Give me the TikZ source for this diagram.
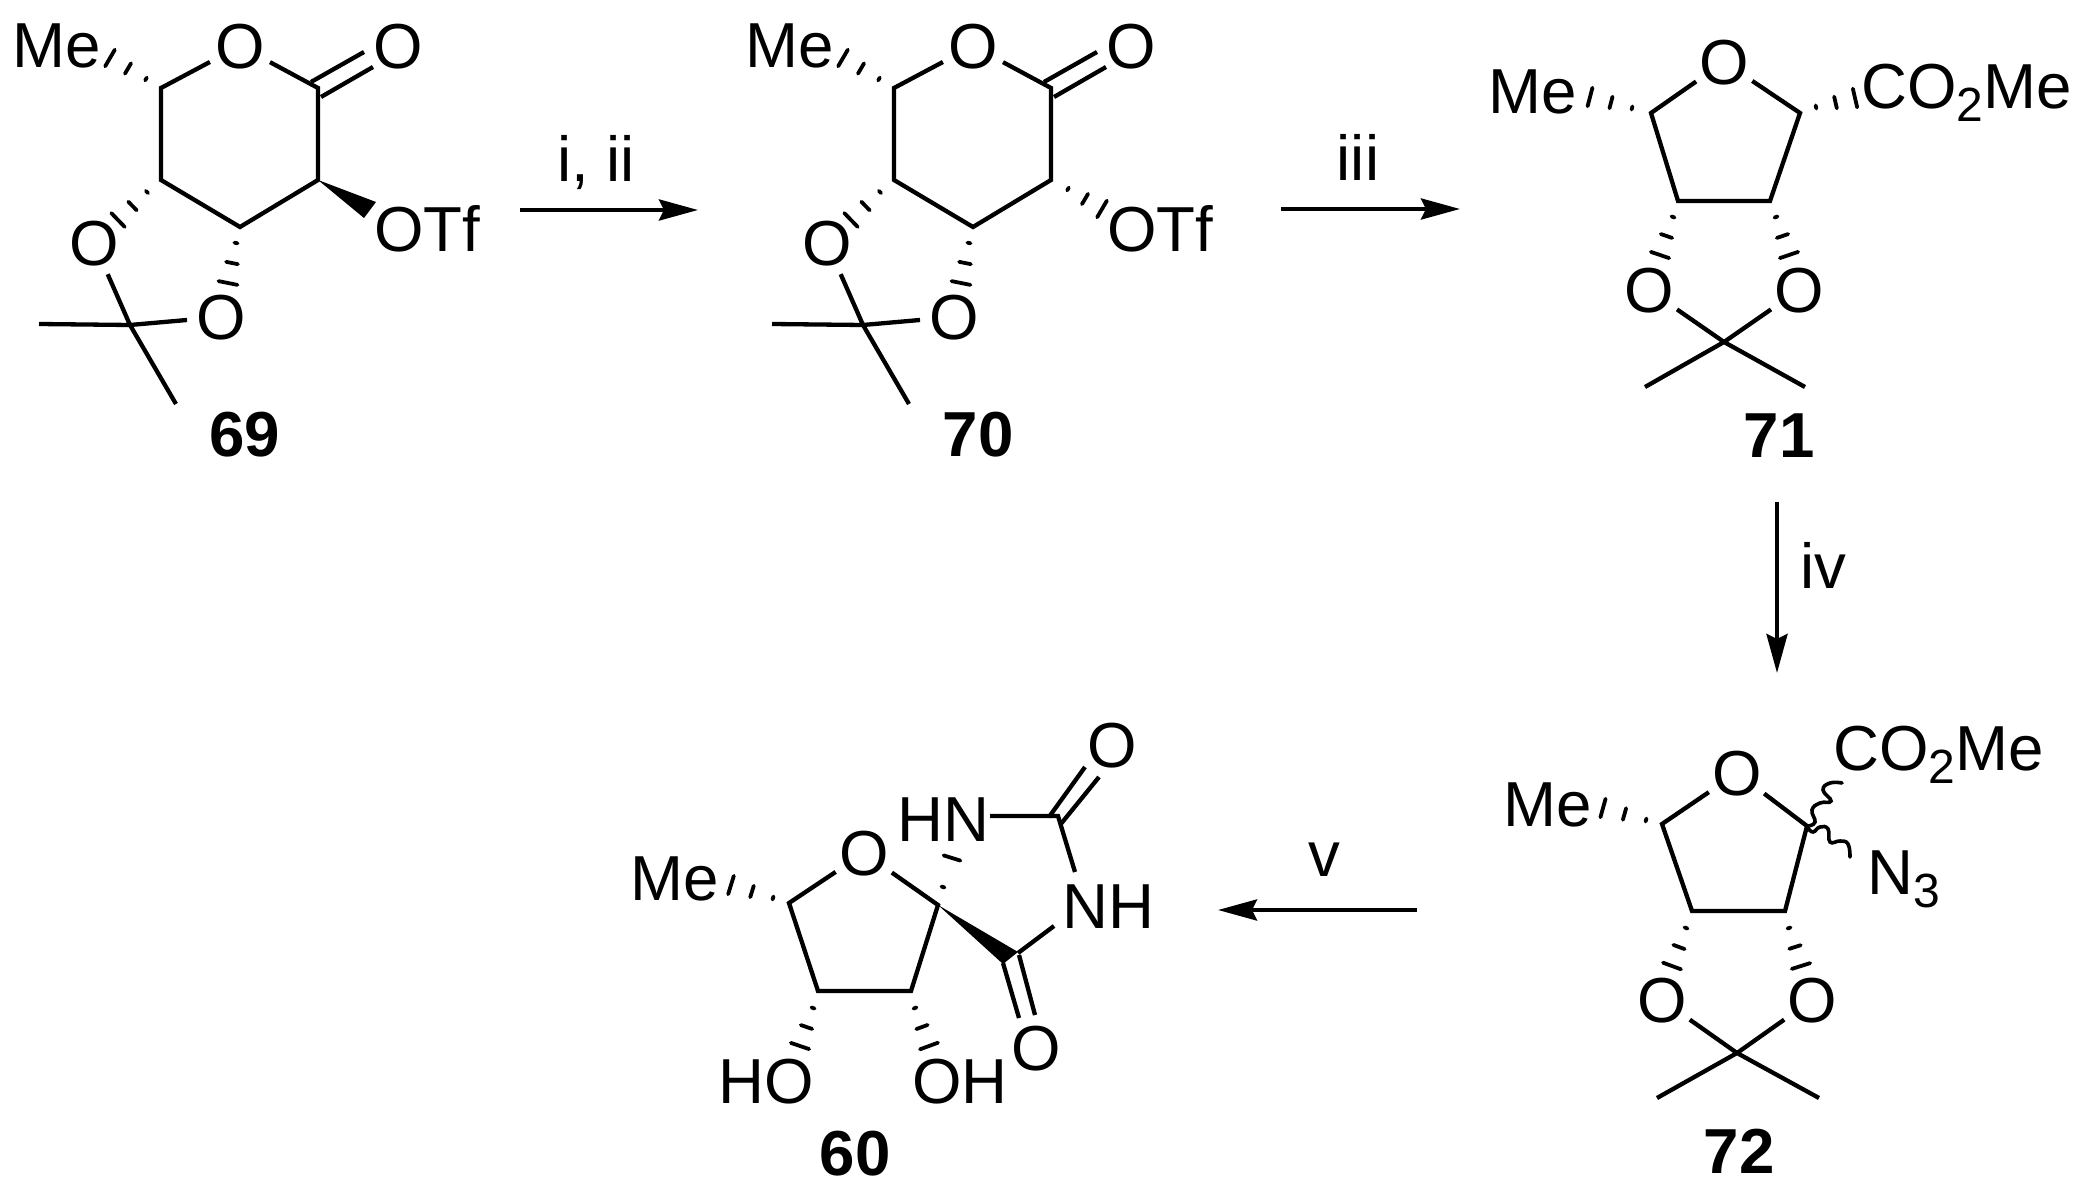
\documentclass[tikz,border=0pt]{standalone}
\usepackage{fontspec}
\setmainfont{Liberation Sans}
\usetikzlibrary{calc,arrows.meta}
\newcommand\bodyfont{\fontsize{31.8pt}{33pt}\selectfont}
\newcommand\subnum[1]{\raisebox{-6.5pt}{\fontsize{24pt}{25pt}\selectfont #1}}
\tikzset{
  every node/.style={font=\bodyfont,inner sep=0pt,text=black},
  bond/.style={line width=2.15pt,line cap=butt,line join=miter,draw=black},
  hashd/.style={line width=1.9pt,line cap=round,draw=black},
  atom/.style={circle,inner sep=0pt,minimum size=32pt,text height=22.8pt,text depth=0pt},
  lbl/.style={anchor=base west},
  cmpd/.style={anchor=base,font=\bodyfont\bfseries},
  cond/.style={anchor=base},
  rxn/.style={line width=2.15pt,draw=black,-{Stealth[length=19.5pt,width=10.5pt,inset=2.5pt]}},
  wavy/.style={line width=1.8pt,draw=black,line cap=round}
}
% hashed bond: three widening dashes
\newcommand\hb[2]{%
  \coordinate (hs) at (#1);\coordinate (he) at (#2);
  \coordinate (hx) at ($(hs)!2!(he)$);
  \foreach \ff/\ww in {0/0.8,0.5/3.0,1/4.8}{
    \draw[hashd] ($(hs)!\ff!(he)!\ww pt!90:(hx)$) -- ($(hs)!\ff!(he)!\ww pt!-90:(hx)$);
  }}
% six-membered lactone of 69 and 70
\newcommand\lactone[4]{%
\begin{scope}[xshift=#1,name prefix=#2-]
  \coordinate (A) at (161,88);
  \coordinate (B) at (318,88);
  \coordinate (C) at (318,180);
  \coordinate (D) at (240,227);
  \coordinate (E) at (161,180);
  \coordinate (Q) at (130,325);
  \coordinate (M1) at (39,324);
  \coordinate (M2) at (176,404);
  \node[atom] (O) at (240,46) {O};
  \node[atom] (Ox) at (398,46) {O};
  \node[atom] (OL) at (94,243) {O};
  \node[atom] (OD) at (221,317) {O};
  \node[lbl] (Me) at (12,68) {Me};
  \node[lbl] (OTf) at (374,252) {OTf};
  \node[cmpd] (num) at (245,457) {#3};
  \draw[bond] (O)--(A)--(E)--(D)--(C)--(B)--(O);
  \draw[bond] (311,82)--(364,52) (321,97)--(373,67);
  \draw[bond] (OL)--(Q)--(M2) (OD)--(Q)--(M1);
  \hb{146,79}{110,58}
  \hb{147,192}{118,220}
  \hb{236,243}{228,283}
  #4
\end{scope}}
\begin{document}
\begin{tikzpicture}[x=0.5pt,y=-0.5pt]
\useasboundingbox (0,0) rectangle (2082,1192);

\lactone{0pt}{a}{69}{\fill (C) -- (376,202) -- (364,218) -- cycle;}
\lactone{366.5pt}{b}{70}{\hb{335,189}{369,209}}

% 71
\begin{scope}[name prefix=c-]
  \coordinate (A) at (1651,113);
  \coordinate (B) at (1800,113);
  \coordinate (C) at (1770,201);
  \coordinate (D) at (1678,201);
  \coordinate (Q) at (1724,342);
  \coordinate (M1) at (1645,387);
  \coordinate (M2) at (1805,387);
  \node[atom] (O) at (1724,62) {O};
  \node[atom] (OL) at (1649,290) {O};
  \node[atom] (OR) at (1799,290) {O};
  \node[lbl] (Me) at (1488,114) {Me};
  \node[lbl] (CM) at (1861,109) {CO\subnum{2}Me};
  \node[cmpd] (num) at (1779,458) {71};
  \draw[bond] (O)--(A)--(D)--(C)--(B)--(O);
  \draw[bond] (OL)--(Q)--(M2) (OR)--(Q)--(M1);
  \hb{1632,108}{1590,97}
  \hb{1816,107}{1855,98}
  \hb{1673,217}{1660,255}
  \hb{1776,217}{1789,255}
\end{scope}

% 72
\begin{scope}[name prefix=d-]
  \coordinate (A) at (1662,824);
  \coordinate (B) at (1807,826);
  \coordinate (C) at (1785,911);
  \coordinate (D) at (1692,911);
  \coordinate (Q) at (1737,1053);
  \coordinate (M1) at (1657,1098);
  \coordinate (M2) at (1819,1098);
  \node[atom] (O) at (1737,773) {O};
  \node[atom] (OL) at (1662,1000) {O};
  \node[atom] (OR) at (1812,1000) {O};
  \node[lbl] (Me) at (1503,826) {Me};
  \node[lbl] (CM) at (1833,770) {CO\subnum{2}Me};
  \node[lbl] (N3) at (1867,894) {N\subnum{3}};
  \node[cmpd] (num) at (1739,1173) {72};
  \draw[bond] (O)--(A)--(D)--(C)--(B)--(O);
  \draw[bond] (OL)--(Q)--(M2) (OR)--(Q)--(M1);
  \draw[wavy] plot[smooth,tension=0.8] coordinates {(1808,826) (1815,822) (1812,810) (1820,803) (1831,801) (1823,790) (1830,783) (1842,783)};
  \draw[wavy] plot[smooth,tension=0.8] coordinates {(1808,828) (1813,832) (1820,827) (1828,829) (1830,842) (1840,841) (1848,844) (1850,857)};
  \hb{1646,820}{1603,808}
  \hb{1686,928}{1672,966}
  \hb{1789,928}{1801,966}
\end{scope}

% 60
\begin{scope}[name prefix=e-]
  \coordinate (A) at (789,903);
  \coordinate (S) at (938,905);
  \coordinate (C) at (911,991);
  \coordinate (D) at (818,991);
  \coordinate (U) at (1058,816);
  \coordinate (K) at (1018,953);
  \node[atom] (O) at (864,853) {O};
  \node[atom] (O1) at (1112,745) {O};
  \node[atom] (O2) at (1036,1048) {O};
  \node[lbl] (Me) at (630,900) {Me};
  \node[lbl] (HN) at (897,841) {HN};
  \node[lbl] (NH) at (1062,928) {NH};
  \node[lbl] (HO) at (718,1103) {HO};
  \node[lbl] (OH) at (912,1103) {OH};
  \node[cmpd] (num) at (855,1175) {60};
  \draw[bond] (O)--(A)--(D)--(C)--(S)--(O);
  \draw[bond] (990,816)--(U)--(1075,872);
  \draw[bond] (1054,926)--(K);
  \draw[bond] (1049,817)--(1085,767) (1060,825)--(1099,777);
  \draw[bond] (1003,963)--(1019,1018) (1019,955)--(1035,1015);
  \fill (S) -- (1018,952) -- (1003,964) -- cycle;
  \hb{773,898}{731,885}
  \hb{813,1008}{800,1046}
  \hb{915,1008}{929,1046}
  \coordinate (hs) at (943,887);\coordinate (he) at (952,858);
  \coordinate (hx) at ($(hs)!2!(he)$);
  \draw[hashd] ($(hs)!0.8pt!90:(he)$) -- ($(hs)!0.8pt!-90:(he)$);
  \draw[hashd] ($(he)!4.4pt!90:(hx)$) -- ($(he)!4.4pt!-90:(hx)$);
\end{scope}

% reaction arrows
\coordinate (r1s) at (520,210); \coordinate (r1e) at (698,210);
\coordinate (r2s) at (1281,209); \coordinate (r2e) at (1460,209);
\coordinate (r3s) at (1777,502); \coordinate (r3e) at (1777,673);
\coordinate (r4s) at (1417,910); \coordinate (r4e) at (1218,910);
\draw[rxn] (r1s) -- (r1e);
\draw[rxn] (r2s) -- (r2e);
\draw[rxn] (r3s) -- (r3e);
\draw[rxn] (r4s) -- (r4e);
\node[cond] (c1) at (596,182) {i, ii};
\node[cond] (c2) at (1358,181) {iii};
\node[cond] (c3) at (1823,588) {iv};
\node[cond] (c4) at (1324,876) {v};
\end{tikzpicture}
\end{document}
